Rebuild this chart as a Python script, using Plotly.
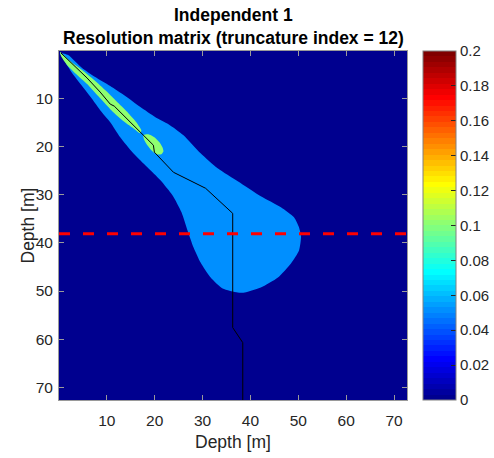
import numpy as np
import plotly.graph_objects as go

# ---------------- data (data units = depth in m) -------------
title_line1 = "Independent 1"
title_line2 = "Resolution matrix (truncature index = 12)"
axis_label = "Depth [m]"
tick_vals = [10, 20, 30, 40, 50, 60, 70]
cbar_ticks = [0, 0.02, 0.04, 0.06, 0.08, 0.1, 0.12, 0.14, 0.16, 0.18, 0.2]
cbar_labels = ["0", "0.02", "0.04", "0.06", "0.08", "0.1", "0.12", "0.14", "0.16", "0.18", "0.2"]
contour_levels = [0.0, 0.05, 0.1]           # fill level of each region
clim = [0.0, 0.2]

# contour 0.05 boundary (light-blue region)
lvl05_x = [0.21, 1.89, 4.82, 7.55, 10.70, 13.85, 16.99, 20.14, 22.87, 26.01, 29.58, 33.14,
           37.34, 42.16, 46.36, 49.09, 50.14, 50.56, 50.14, 48.46, 45.73, 42.16, 38.81, 37.34,
           34.19, 31.68, 29.58, 28.11, 26.85, 25.59, 23.70, 21.19, 18.46, 15.52, 12.79, 10.70,
           8.60, 6.92, 4.82, 2.73, 1.05]
lvl05_y = [0.62, 1.03, 3.73, 5.61, 7.48, 9.56, 11.84, 13.92, 15.38, 17.67, 21.41, 24.52,
           27.23, 30.35, 32.63, 34.71, 36.79, 38.66, 41.57, 44.27, 47.19, 49.27, 50.30, 50.30,
           49.47, 47.19, 44.07, 40.95, 37.42, 33.67, 30.14, 27.02, 24.32, 21.41, 18.08, 14.96,
           12.47, 10.18, 7.48, 4.77, 2.07]

# contour 0.1 boundaries (green regions)
lvl10a_x = [0.21, 2.31, 4.82, 7.34, 9.86, 12.38, 14.48, 16.15, 17.20, 16.99, 15.52, 13.22,
            10.70, 8.18, 5.87, 3.78, 1.68, 0.42]
lvl10a_y = [0.41, 2.28, 4.15, 6.23, 8.52, 11.01, 13.09, 14.96, 16.62, 17.25, 16.21, 14.55,
            12.26, 9.56, 7.06, 5.19, 3.11, 1.24]
lvl10b_x = [17.62, 18.67, 19.93, 20.98, 21.61, 21.82, 21.40, 20.35, 19.30, 18.46, 17.83]
lvl10b_y = [17.66, 17.46, 18.08, 19.12, 20.16, 20.99, 21.61, 21.61, 20.78, 19.74, 18.70]

# black trace
peak_x = [0.42, 3.36, 5.87, 8.60, 10.28, 10.70, 11.54, 14.06, 16.99, 19.72, 19.93, 23.91,
          30.63, 36.29, 36.29, 38.39, 38.39]
peak_y = [0.62, 3.32, 5.81, 8.72, 10.60, 11.22, 11.63, 14.13, 16.83, 19.74, 21.20, 25.36,
          28.68, 33.88, 57.58, 60.70, 73.0]

# red dashed reference depth
ref_depth = 38.1
x_range = [0.0, 72.7]
y_range = [72.6, 0.2]


# ---------------- MATLAB jet(64) colormap --------------------------------------------
def jet(m=64):
    n = int(np.ceil(m / 4))
    u = np.concatenate([np.arange(1, n + 1) / n, np.ones(n - 1), np.arange(n, 0, -1) / n])
    g = int(np.ceil(n / 2)) - (1 if m % 4 == 1 else 0) + np.arange(1, len(u) + 1)
    r = g + n
    b = g - n
    J = np.zeros((m, 3))
    for col, idxs in enumerate([r, g, b]):
        for k, v in zip(idxs, u):
            if 1 <= k <= m:
                J[k - 1, col] = v
    return J


J = jet(64)


def rgb(c):
    return "rgb(%d,%d,%d)" % tuple(int(round(v * 255)) for v in c)


def level_color(v):
    idx = int(np.floor((v - clim[0]) / (clim[1] - clim[0]) * 64))
    idx = min(max(idx, 0), 63)
    return rgb(J[idx])


colorscale = []
for i in range(64):
    colorscale.append([i / 64, rgb(J[i])])
    colorscale.append([(i + 1) / 64, rgb(J[i])])

FONT = "Liberation Sans, Arial, Helvetica, sans-serif"
TXT = "#262626"

fig = go.Figure()

# regions
for xs, ys, lv in [(lvl05_x, lvl05_y, contour_levels[1]),
                   (lvl10a_x, lvl10a_y, contour_levels[2]),
                   (lvl10b_x, lvl10b_y, contour_levels[2])]:
    c = level_color(lv)
    fig.add_trace(go.Scatter(x=xs + [xs[0]], y=ys + [ys[0]], mode="lines", fill="toself",
                             fillcolor=c, line=dict(width=0, color=c, shape="spline", smoothing=0.6),
                             hoverinfo="skip", showlegend=False))

fig.add_trace(go.Scatter(x=peak_x, y=peak_y, mode="lines",
                         line=dict(color="black", width=1), hoverinfo="skip", showlegend=False))

fig.add_trace(go.Scatter(x=[x_range[0], x_range[1]], y=[ref_depth, ref_depth], mode="lines",
                         line=dict(color="#FF0000", width=3, dash="11px,13px"),
                         hoverinfo="skip", showlegend=False))

# colorbar carrier
fig.add_trace(go.Scatter(x=[-10, -10], y=[-10, -10], mode="markers",
                         marker=dict(color=[clim[0], clim[1]], cmin=clim[0], cmax=clim[1],
                                     colorscale=colorscale, opacity=0, showscale=True,
                                     colorbar=dict(x=1.045, xanchor="left", xpad=0,
                                                   y=0.5, yanchor="middle", ypad=0,
                                                   len=1, lenmode="fraction", thickness=33,
                                                   outlinecolor="#808080", outlinewidth=1,
                                                   tickvals=cbar_ticks, ticktext=cbar_labels,
                                                   ticks="inside", ticklen=5, tickcolor=TXT,
                                                   tickfont=dict(family=FONT, size=15, color=TXT))),
                         hoverinfo="skip", showlegend=False))

axis_common = dict(tickvals=tick_vals, ticktext=[str(v) for v in tick_vals],
                   ticks="inside", ticklen=5, tickcolor="#9a9a9a", tickwidth=1,
                   showline=True, linecolor="#9a9a9a", linewidth=1, mirror="ticks",
                   showgrid=False, zeroline=False,
                   tickfont=dict(family=FONT, size=15.5, color=TXT))

fig.update_xaxes(range=x_range, ticklabelstandoff=6, **axis_common)
fig.update_yaxes(range=y_range, ticklabelstandoff=2, **axis_common)

fig.update_layout(
    width=494, height=458,
    margin=dict(l=59, r=87, t=51, b=58, autoexpand=False),
    plot_bgcolor=level_color(contour_levels[0]),
    paper_bgcolor="white",
    showlegend=False,
    annotations=[
        dict(text="<b>%s</b>" % title_line1, x=0.5, y=(400 - 15) / 349, xref="paper", yref="paper",
             xanchor="center", yanchor="middle", showarrow=False,
             font=dict(family=FONT, size=17.5, color="black")),
        dict(text="<b>%s</b>" % title_line2, x=0.5, y=(400 - 38) / 349, xref="paper", yref="paper",
             xanchor="center", yanchor="middle", showarrow=False,
             font=dict(family=FONT, size=17.5, color="black")),
        dict(text=axis_label, x=0.5, y=(400 - 442) / 349, xref="paper", yref="paper",
             xanchor="center", yanchor="middle", showarrow=False,
             font=dict(family=FONT, size=17.5, color=TXT)),
        dict(text=axis_label, x=(27 - 59) / 348, y=0.5, xref="paper", yref="paper",
             xanchor="center", yanchor="middle", showarrow=False, textangle=-90,
             font=dict(family=FONT, size=17.5, color=TXT)),
    ],
)

fig.write_html("out.html")
